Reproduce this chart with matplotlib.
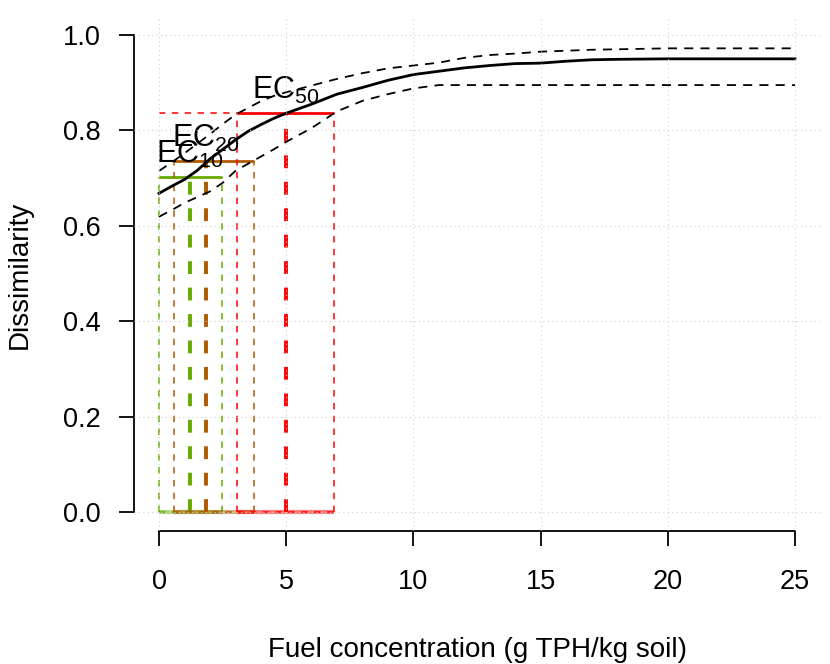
"""
Dose-response curve of dissimilarity vs fuel concentration with EC10/EC20/EC50
"""
import numpy as np
import matplotlib
matplotlib.use("Agg")
import matplotlib.pyplot as plt

plt.rcParams["font.family"] = ["Liberation Sans", "DejaVu Sans"]
plt.rcParams["mathtext.fontset"] = "custom"
plt.rcParams["mathtext.rm"] = "Liberation Sans"
plt.rcParams["mathtext.it"] = "Liberation Sans"

# fitted curve and confidence band
conc = [0, 0.5, 1, 1.5, 2, 2.5, 3, 3.5, 4, 4.5, 5, 6, 7, 8, 9, 10,
        11, 12, 13, 14, 15, 16, 17, 18, 20, 22, 25]
diss = [0.668, 0.683, 0.697, 0.716, 0.740, 0.760, 0.780, 0.798, 0.812, 0.825,
        0.836, 0.855, 0.876, 0.890, 0.905, 0.917, 0.924, 0.931, 0.936, 0.940,
        0.941, 0.945, 0.948, 0.949, 0.950, 0.950, 0.950]
diss_hi = [0.715, 0.733, 0.752, 0.772, 0.792, 0.813, 0.833, 0.847, 0.861, 0.872,
           0.880, 0.894, 0.908, 0.920, 0.930, 0.936, 0.942, 0.952, 0.958, 0.961,
           0.965, 0.967, 0.969, 0.970, 0.972, 0.972, 0.972]
diss_lo = [0.619, 0.633, 0.648, 0.660, 0.672, 0.690, 0.715, 0.730, 0.745, 0.760,
           0.776, 0.805, 0.840, 0.862, 0.876, 0.888, 0.895, 0.895, 0.895, 0.895,
           0.895, 0.895, 0.895, 0.895, 0.895, 0.895, 0.895]

# effective concentrations
ec_names = ["10", "20", "50"]
ec_est = [1.22, 1.85, 4.98]
ec_lo = [0.0, 0.59, 3.08]
ec_hi = [2.46, 3.73, 6.86]
ec_resp = [0.703, 0.7365, 0.836]
ec_colors = ["#66AA00", "#B05A00", "#FF0000"]

W, H = 830, 664
fig = plt.figure(figsize=(W / 100, H / 100), dpi=100)
ax = fig.add_axes([133.6 / W, (H - 531.1) / H, (820.4 - 133.6) / W, (531.1 - 15.9) / H])

for name, est, lo, hi, y, c in zip(ec_names, ec_est, ec_lo, ec_hi, ec_resp, ec_colors):
    thin = dict(color=c, lw=1.1, ls=(0, (4.2, 4.2)))
    ax.plot([0, lo], [y, y], **thin)
    ax.plot([lo, lo], [0, y], **thin)
    ax.plot([hi, hi], [0, y], **thin)
    ax.plot([lo, hi], [0, 0], color=c, lw=3, alpha=0.5, solid_capstyle="butt")
    ax.plot([lo, hi], [0, 0], **thin)
    ax.plot([est, est], [0, y], color=c, lw=2.8, ls=(0, (3.3, 3.5)))
    ax.plot([lo, hi], [y, y], color=c, lw=2.0, solid_capstyle="butt")

ax.plot(conc, diss_hi, color="black", lw=1.3, ls=(0, (5, 4)))
ax.plot(conc, diss_lo, color="black", lw=1.3, ls=(0, (5, 4)))
ax.plot(conc, diss, color="black", lw=2.0)

for name, est, y in zip(ec_names, ec_est, ec_resp):
    ax.annotate(f"EC$_{{{name}}}$", (est, y), xytext=(0, 5), textcoords="offset points",
                ha="center", va="bottom", fontsize=22)

# grid on top, R style
grid = dict(color="#CFCFCF", lw=0.8, ls=(0, (1, 3)), zorder=5)
for gx in range(0, 26, 5):
    ax.axvline(gx, **grid)
for gy in np.arange(0, 1.01, 0.2):
    ax.axhline(gy, **grid)

ax.set_xlim(-1, 26)
ax.set_ylim(-0.04, 1.04)
for s in ("top", "right"):
    ax.spines[s].set_visible(False)
ax.spines["bottom"].set_bounds(0, 25)
ax.spines["left"].set_bounds(0, 1)
ax.spines["bottom"].set_linewidth(1.3)
ax.spines["left"].set_linewidth(1.3)
ax.set_xticks(range(0, 26, 5))
ax.set_yticks(np.arange(0, 1.01, 0.2))
ax.set_yticklabels([f"{v:.1f}" for v in np.arange(0, 1.01, 0.2)])
ax.tick_params(axis="x", length=11, width=1.3, pad=16, labelsize=19.5)
ax.tick_params(axis="y", length=11, width=1.3, pad=13, labelsize=19.5)

fig.text(477 / W, (H - 657) / H, "Fuel concentration (g TPH/kg soil)",
         ha="center", va="baseline", fontsize=20)
fig.text(20 / W, (H - 275) / H, "Dissimilarity", rotation=90,
         ha="center", va="center", fontsize=20)

fig.savefig("out.png", dpi=100)
